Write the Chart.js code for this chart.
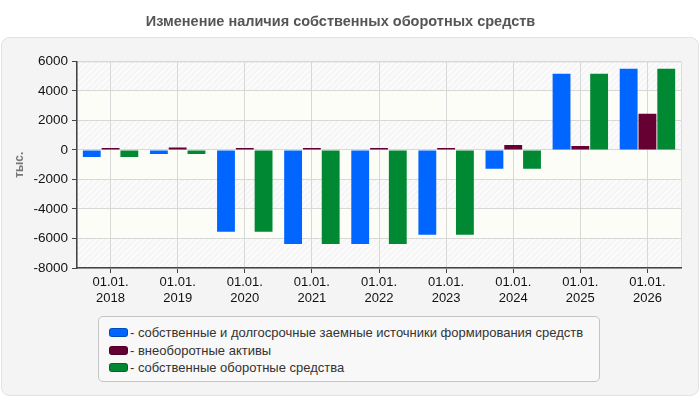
<!DOCTYPE html>
<html>
<head>
<meta charset="utf-8">
<script src="https://cdn.jsdelivr.net/npm/chart.js@4.4.1/dist/chart.umd.min.js"></script>
<style>
  html, body { margin: 0; padding: 0; background: #fff; }
  #wrap { position: relative; width: 700px; height: 400px; font-family: "Liberation Sans", Arial, sans-serif; }
  #legend {
    position: absolute; left: 98px; top: 316px; width: 502px; height: 66px;
    border: 1px solid #c4c4c4; border-radius: 5px; background: #f8f8f8;
    box-sizing: border-box; padding: 7px 0 0 10px; font-size: 13px; color: #333;
  }
  #legend div { height: 17.5px; line-height: 17.5px; white-space: nowrap; }
  #legend span.sw {
    display: inline-block; width: 17px; height: 7px; border-radius: 3px;
    vertical-align: middle; margin-right: 2px; position: relative; top: -1px;
    border: 1px solid rgba(0,0,0,0.25);
  }
</style>
</head>
<body>
<div id="wrap">
  <canvas id="Balance-Chart" width="700" height="400"></canvas>
  <div id="legend"></div>
</div>
<script>
//-------------------------------------------------- Data
const dateLabels = [
  ["01.01.", "2018"], ["01.01.", "2019"], ["01.01.", "2020"],
  ["01.01.", "2021"], ["01.01.", "2022"], ["01.01.", "2023"],
  ["01.01.", "2024"], ["01.01.", "2025"], ["01.01.", "2026"]
];
const ownAndLongTerm = [-480, -270, -5550, -6370, -6370, -5750, -1270, 5170, 5500];
const nonCurrentAssets = [80, 160, 60, 60, 70, 60, 340, 270, 2450];
const ownWorkingCapital = [-480, -270, -5550, -6370, -6370, -5750, -1270, 5170, 5500];

const seriesNames = [
  "собственные и долгосрочные заемные источники формирования средств",
  "внеоборотные активы",
  "собственные оборотные средства"
];
const seriesColors = ["#0066ff", "#660033", "#008833"];
const yTicks = {min: -8000, max: 6000, step: 2000};
//^^^^^^^^^^^^^^^^^^^^^^^^^^^^^^^^^^^^^^^^^^^^^^^^^^ Data



//-------------------------------------------------- Background plugin
function makeHatch() {
  const c = document.createElement("canvas");
  c.width = 6; c.height = 6;
  const g = c.getContext("2d");
  g.fillStyle = "#f6f6f6";
  g.fillRect(0, 0, 6, 6);
  g.strokeStyle = "#ffffff";
  g.lineWidth = 1.2;
  g.beginPath();
  g.moveTo(0, 6); g.lineTo(6, 0);
  g.moveTo(-3, 3); g.lineTo(3, -3);
  g.moveTo(3, 9); g.lineTo(9, 3);
  g.stroke();
  return c;
}

const panelPlugin = {
  id: "panel",
  beforeDraw(chart) {
    const ctx = chart.ctx;
    ctx.save();
    ctx.fillStyle = "#ffffff";
    ctx.fillRect(0, 0, chart.width, chart.height);
    // gray panel
    ctx.beginPath();
    ctx.roundRect(1.5, 37.5, chart.width - 3, chart.height - 42, 8);
    ctx.fillStyle = "#f4f4f4";
    ctx.fill();
    ctx.strokeStyle = "#e2e2e2";
    ctx.lineWidth = 1;
    ctx.stroke();
    // striped plot bands
    const a = chart.chartArea;
    const y = chart.scales.y;
    const hatch = ctx.createPattern(makeHatch(), "repeat");
    let i = 0;
    for (let v = yTicks.max; v > yTicks.min; v -= yTicks.step) {
      const top = y.getPixelForValue(v), bot = y.getPixelForValue(v - yTicks.step);
      ctx.fillStyle = i % 2 == 0 ? hatch : "#fdfdf8";
      ctx.fillRect(a.left, top, a.right - a.left, bot - top);
      i++;
    }
    ctx.strokeStyle = "#dddddd";
    ctx.strokeRect(a.left + 0.5, a.top + 0.5, a.right - a.left, a.bottom - a.top);
    ctx.restore();
  }
};
//^^^^^^^^^^^^^^^^^^^^^^^^^^^^^^^^^^^^^^^^^^^^^^^^^^ Background plugin



//-------------------------------------------------- Chart
const font = "'Liberation Sans', Arial, sans-serif";
const chart = new Chart(document.getElementById("Balance-Chart").getContext("2d"), {
  type: "bar",
  data: {
    labels: dateLabels,
    datasets: [ownAndLongTerm, nonCurrentAssets, ownWorkingCapital].map((d, i) => ({
      label: seriesNames[i],
      data: d,
      backgroundColor: seriesColors[i],
      borderWidth: 0,
      minBarLength: 2,
      categoryPercentage: 0.84,
      barPercentage: 0.95
    }))
  },
  options: {
    responsive: false,
    animation: false,
    layout: {padding: {left: 0, right: 19, top: 0, bottom: 90}},
    plugins: {
      legend: {display: false},
      tooltip: {enabled: false},
      title: {
        display: true,
        text: "Изменение наличия собственных оборотных средств",
        color: "#555555",
        font: {family: font, size: 14.5, weight: "bold"},
        padding: {top: 13, bottom: 31}
      }
    },
    scales: {
      x: {
        grid: {
          offset: false, color: "#d8d8d8", borderDash: [4, 3],
          tickColor: "#444", tickLength: 5, tickBorderDash: []
        },
        border: {color: "#444", width: 1.5},
        ticks: {color: "#111", font: {family: font, size: 13}, padding: 2, maxRotation: 0},
        afterFit: s => { s.height = 42; }
      },
      y: {
        min: yTicks.min, max: yTicks.max,
        grid: {
          color: "#d8d8d8", borderDash: [4, 3],
          tickColor: "#444", tickLength: 5, tickBorderDash: []
        },
        border: {color: "#444", width: 1.5},
        ticks: {
          stepSize: yTicks.step, color: "#111", font: {family: font, size: 13.5}, padding: 4,
          callback: v => String(v)
        },
        title: {
          display: true, text: "тыс.", color: "#777",
          font: {family: font, size: 12, weight: "bold"},
          padding: {top: 12, bottom: 0}
        },
        afterFit: s => { s.width = 77; }
      }
    }
  },
  plugins: [panelPlugin]
});

// html legend from the datasets
document.getElementById("legend").innerHTML = chart.data.datasets.map(ds =>
  `<div><span class="sw" style="background:${ds.backgroundColor}"></span>- ${ds.label}</div>`
).join("");
//^^^^^^^^^^^^^^^^^^^^^^^^^^^^^^^^^^^^^^^^^^^^^^^^^^ Chart
</script>
</body>
</html>
